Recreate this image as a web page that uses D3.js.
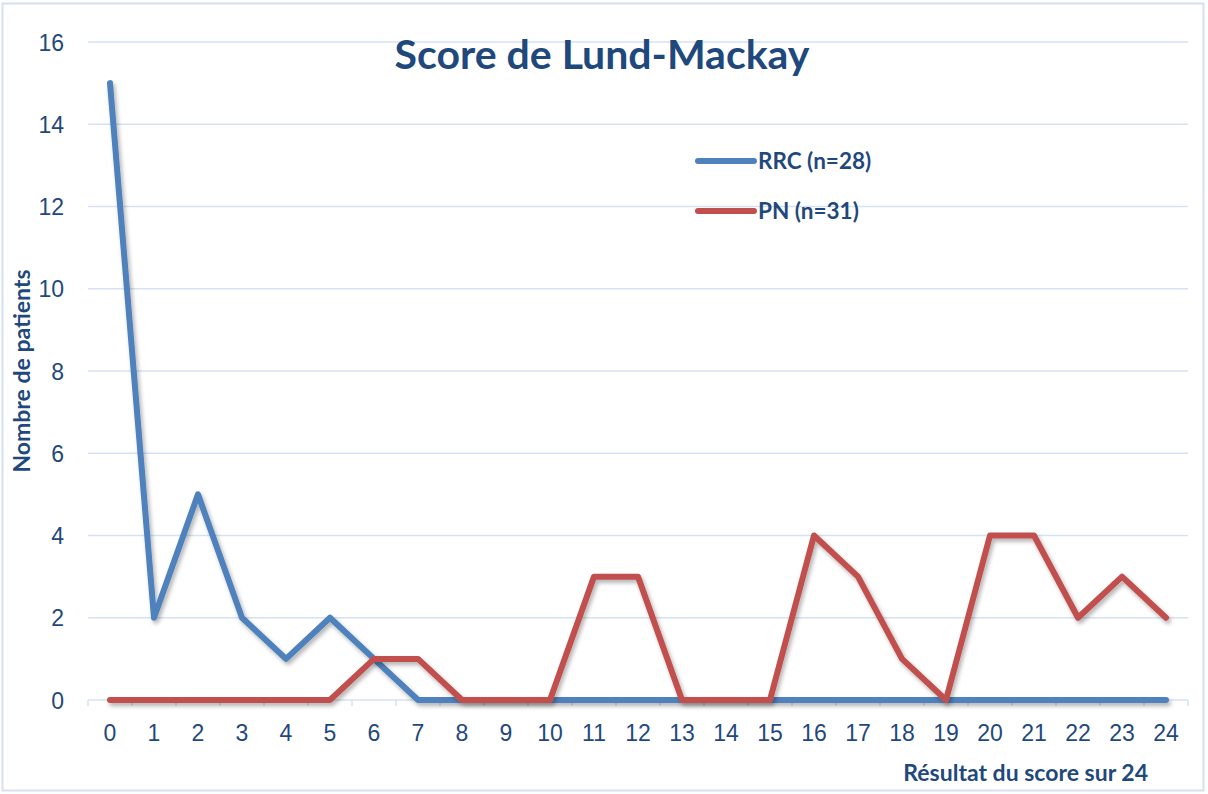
<!DOCTYPE html>
<html><head><meta charset="utf-8">
<script src="https://cdn.jsdelivr.net/npm/d3@7"></script>
<style>body{margin:0;background:#fff;} svg{display:block;font-family:Lato, "Open Sans", sans-serif;}</style>
</head><body>
<script>
const categories = d3.range(0, 25).map(String);
const rrcValues = [15,2,5,2,1,2,1,0,0,0,0,0,0,0,0,0,0,0,0,0,0,0,0,0,0];
const pnValues  = [0,0,0,0,0,0,1,1,0,0,0,3,3,0,0,0,4,3,1,0,4,4,2,3,2];
const yTicks = [0,2,4,6,8,10,12,14,16];
const seriesNames = ["RRC (n=28)", "PN (n=31)"];
const seriesColors = ["#4F81BD", "#C0504D"];

const W = 1208, H = 794;
const svg = d3.select("body").append("svg").attr("width", W).attr("height", H);
const defs = svg.append("defs");
const f = defs.append("filter").attr("id","sh").attr("x","-10%").attr("y","-10%").attr("width","120%").attr("height","130%");
f.append("feDropShadow").attr("dx",2).attr("dy",3).attr("stdDeviation",2).attr("flood-color","#000").attr("flood-opacity",0.3);

svg.append("rect").attr("x",2.5).attr("y",3.5).attr("width",1201).attr("height",787)
  .attr("fill","#fff").attr("stroke","#D5E0F0").attr("stroke-width",2);

const x = d3.scaleBand().domain(categories).range([88, 1188]);
const y = d3.scaleLinear().domain([0,16]).range([700, 42]);
const txt = "#1F497D";

// gridlines
svg.append("g").selectAll("line").data(yTicks.filter(d=>d>0)).join("line")
  .attr("x1",88).attr("x2",1188).attr("y1",d=>y(d)).attr("y2",d=>y(d))
  .attr("stroke","#D6E2F3").attr("stroke-width",1.5);

// y axis labels
const yAxis = d3.axisLeft(y).tickValues(yTicks).tickSize(0).tickPadding(0);
const gy = svg.append("g").attr("transform","translate(64,0)").call(yAxis);
gy.select(".domain").remove();
gy.selectAll("text").attr("font-size",23).attr("fill",txt).attr("dy","0.35em");

// x axis
const xAxis = d3.axisBottom(x).tickSize(0).tickPadding(0);
const gx = svg.append("g").attr("transform","translate(0,700)").call(xAxis);
gx.select(".domain").attr("stroke","#D6E2F3").attr("stroke-width",1.5).attr("d","M88,0H1188");
gx.selectAll("text").attr("font-size",23).attr("fill",txt).attr("y",25);
svg.append("g").selectAll("line").data(d3.range(0,26)).join("line")
  .attr("x1",d=>88 + d*x.step()).attr("x2",d=>88 + d*x.step())
  .attr("y1",700).attr("y2",706).attr("stroke","#D6E2F3").attr("stroke-width",1.5);

// lines
const line = d3.line().x((d,i)=>x(categories[i]) + x.bandwidth()/2).y(d=>y(d));
[rrcValues, pnValues].forEach((vals,k)=>{
  svg.append("path").datum(vals).attr("d",line).attr("fill","none")
    .attr("stroke",seriesColors[k]).attr("stroke-width",6)
    .attr("stroke-linejoin","round").attr("stroke-linecap","round").attr("filter","url(#sh)");
});

// title
svg.append("text").attr("x",602).attr("y",69).attr("text-anchor","middle")
  .attr("font-size",41).attr("font-weight","bold").attr("fill",txt).text("Score de Lund-Mackay");

// axis titles
svg.append("text").attr("transform","translate(30,371) rotate(-90)").attr("text-anchor","middle")
  .attr("font-size",23).attr("font-weight","bold").attr("fill",txt).text("Nombre de patients");
svg.append("text").attr("x",1148).attr("y",781).attr("text-anchor","end")
  .attr("font-size",23).attr("font-weight","bold").attr("fill",txt).text("Résultat du score sur 24");

// legend
const lg = svg.append("g");
[161,211].forEach((ly,k)=>{
  lg.append("line").attr("x1",698).attr("x2",754).attr("y1",ly).attr("y2",ly)
    .attr("stroke",seriesColors[k]).attr("stroke-width",6).attr("stroke-linecap","round");
  lg.append("text").attr("x",758).attr("y",ly+8).attr("font-size",22.5).attr("font-weight","bold")
    .attr("fill",txt).text(seriesNames[k]);
});
</script>
</body></html>
